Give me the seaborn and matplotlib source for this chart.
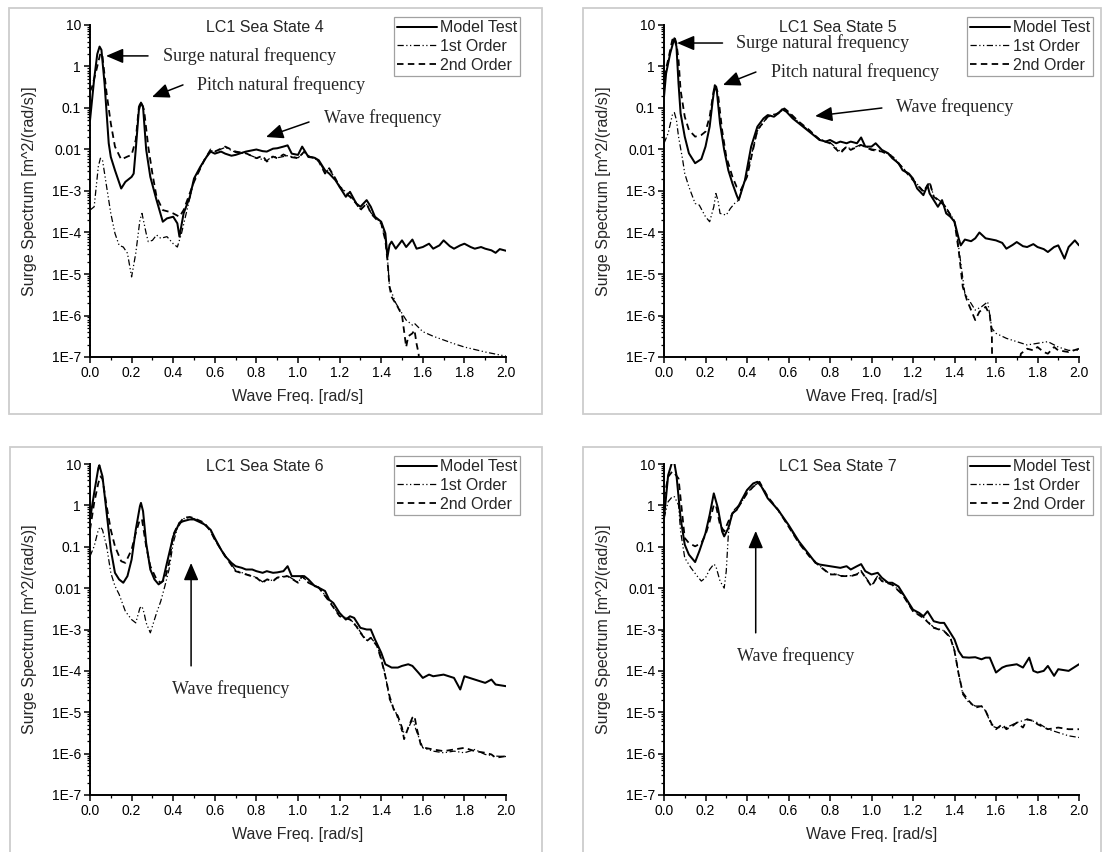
import numpy as np
import pandas as pd
import matplotlib
matplotlib.use("Agg")
import matplotlib.pyplot as plt
import seaborn as sns
from matplotlib.patches import Rectangle
from matplotlib.ticker import LogLocator, MultipleLocator, NullFormatter

sns.set_theme(style="ticks")
plt.rcParams["font.family"] = ["Liberation Sans", "DejaVu Sans"]

# ---------------------------------------------------------------------------
# Surge spectra, stored as (frequency [rad/s], log10 of spectral density)
# ---------------------------------------------------------------------------
SERIES = ["Model Test", "1st Order", "2nd Order"]

ss4_model = [(0.0,-1.3),(0.02,-0.3),(0.035,0.3),(0.046,0.48),(0.055,0.4),(0.07,-0.41),(0.09,-1.85),(0.1,-2.18),
    (0.12,-2.5),(0.15,-2.94),(0.17,-2.78),(0.2,-2.66),(0.21,-2.58),(0.22,-2.0),(0.235,-1.05),(0.245,-0.87),
    (0.255,-0.97),(0.27,-2.0),(0.29,-2.66),(0.32,-3.22),(0.35,-3.74),(0.37,-3.66),(0.4,-3.62),(0.42,-3.78),
    (0.43,-4.1),(0.45,-3.54),(0.48,-3.14),(0.5,-2.7),(0.53,-2.42),(0.56,-2.18),(0.58,-2.05),(0.6,-2.1),
    (0.63,-2.05),(0.65,-2.1),(0.68,-2.15),(0.7,-2.13),(0.73,-2.08),(0.75,-2.05),(0.78,-2.02),(0.8,-2.0),
    (0.83,-2.04),(0.85,-2.05),(0.88,-1.98),(0.9,-1.97),(0.93,-1.93),(0.95,-1.9),(0.97,-2.1),(1.0,-2.13),
    (1.02,-1.93),(1.05,-2.18),(1.08,-2.2),(1.1,-2.26),(1.13,-2.5),(1.15,-2.58),(1.18,-2.74),(1.2,-2.9),
    (1.23,-3.14),(1.25,-3.02),(1.28,-3.3),(1.3,-3.38),(1.33,-3.22),(1.35,-3.38),(1.37,-3.62),(1.4,-3.74),
    (1.42,-4.02),(1.43,-4.59),(1.44,-4.3),(1.45,-4.22),(1.47,-4.39),(1.5,-4.19),(1.52,-4.35),(1.55,-4.17),
    (1.57,-4.39),(1.6,-4.35),(1.63,-4.27),(1.65,-4.39),(1.68,-4.31),(1.7,-4.19),(1.73,-4.33),(1.75,-4.39),
    (1.78,-4.31),(1.8,-4.27),(1.83,-4.35),(1.85,-4.39),(1.88,-4.35),(1.9,-4.39),(1.93,-4.43),(1.95,-4.49),
    (1.97,-4.4),(2.0,-4.44)]
ss4_first = [(0.0,-3.46),(0.02,-3.38),(0.04,-2.41),(0.05,-2.21),(0.06,-2.25),(0.08,-2.9),(0.1,-3.54),(0.12,-4.02),
    (0.14,-4.31),(0.16,-4.35),(0.18,-4.5),(0.2,-5.07),(0.22,-4.5),(0.24,-3.7),(0.25,-3.54),(0.27,-4.02),
    (0.28,-4.22),(0.3,-4.19),(0.32,-4.06),(0.34,-4.14),(0.37,-4.1),(0.4,-4.27),(0.42,-4.35),(0.44,-4.02),
    (0.47,-3.38),(0.5,-2.74),(0.55,-2.25),(0.58,-2.02),(0.6,-2.05),(0.65,-1.95),(0.7,-2.07),(0.75,-2.1),
    (0.8,-2.2),(0.85,-2.27),(0.88,-2.15),(0.9,-2.2),(0.95,-2.15),(1.0,-2.2),(1.03,-2.07),(1.05,-2.15),
    (1.1,-2.27),(1.13,-2.55),(1.15,-2.47),(1.2,-2.88),(1.25,-3.12),(1.28,-3.28),(1.3,-3.44),(1.33,-3.32),
    (1.35,-3.52),(1.38,-3.68),(1.4,-3.76),(1.42,-4.17),(1.43,-4.6),(1.44,-5.31),(1.47,-5.7),(1.5,-5.95),
    (1.52,-6.11),(1.55,-6.23),(1.56,-6.19),(1.6,-6.39),(1.65,-6.5),(1.7,-6.59),(1.75,-6.68),(1.8,-6.76),
    (1.85,-6.82),(1.9,-6.88),(1.95,-6.93),(2.0,-6.98)]
ss4_second = [(0.0,-0.6),(0.01,-0.49),(0.03,-0.1),(0.05,0.32),(0.06,0.24),(0.08,-0.65),(0.1,-1.37),(0.12,-1.93),
    (0.15,-2.24),(0.18,-2.17),(0.2,-2.13),(0.22,-1.77),(0.235,-0.97),(0.245,-0.85),(0.26,-1.05),(0.28,-1.93),
    (0.3,-2.58),(0.32,-3.14),(0.35,-3.46),(0.38,-3.5),(0.4,-3.54),(0.43,-3.62),(0.45,-3.46),(0.5,-2.78),
    (0.55,-2.25),(0.58,-2.0),(0.6,-2.05),(0.65,-1.93),(0.7,-2.05),(0.75,-2.09),(0.8,-2.21),(0.83,-2.15),
    (0.85,-2.29),(0.88,-2.17),(0.9,-2.21),(0.93,-2.12),(0.95,-2.17),(1.0,-2.21),(1.03,-2.05),(1.05,-2.17),
    (1.08,-2.2),(1.1,-2.29),(1.13,-2.58),(1.15,-2.45),(1.18,-2.7),(1.2,-2.9),(1.23,-3.06),(1.25,-3.14),
    (1.28,-3.3),(1.3,-3.46),(1.33,-3.3),(1.35,-3.54),(1.38,-3.7),(1.4,-3.78),(1.42,-4.19),(1.43,-4.67),
    (1.44,-5.31),(1.45,-5.55),(1.48,-5.8),(1.5,-5.99),(1.52,-6.76),(1.53,-6.5),(1.55,-6.43),(1.56,-6.35),
    (1.57,-6.68),(1.58,-6.92),(1.585,-7.4)]

ss5_model = [(0.0,-0.73),(0.01,-0.17),(0.03,0.32),(0.05,0.68),(0.06,0.48),(0.07,-0.41),(0.08,-1.13),(0.1,-1.69),
    (0.12,-2.09),(0.15,-2.33),(0.18,-2.23),(0.2,-1.93),(0.22,-1.45),(0.235,-0.81),(0.245,-0.45),(0.255,-0.61),
    (0.27,-1.37),(0.29,-2.01),(0.31,-2.5),(0.33,-2.82),(0.35,-3.1),(0.36,-3.22),(0.37,-3.06),(0.39,-2.74),
    (0.42,-1.93),(0.45,-1.45),(0.48,-1.25),(0.5,-1.17),(0.53,-1.21),(0.55,-1.13),(0.57,-1.03),(0.59,-1.09),
    (0.62,-1.25),(0.65,-1.37),(0.68,-1.49),(0.7,-1.57),(0.73,-1.69),(0.75,-1.77),(0.78,-1.81),(0.8,-1.77),
    (0.83,-1.85),(0.85,-1.81),(0.88,-1.85),(0.9,-1.81),(0.93,-1.85),(0.95,-1.71),(0.97,-1.93),(1.0,-1.93),
    (1.02,-1.85),(1.05,-2.01),(1.08,-2.09),(1.1,-2.21),(1.13,-2.33),(1.15,-2.5),(1.18,-2.58),(1.2,-2.7),
    (1.22,-2.94),(1.25,-3.1),(1.27,-2.86),(1.28,-3.06),(1.3,-3.22),(1.32,-3.38),(1.34,-3.22),(1.36,-3.54),
    (1.38,-3.62),(1.4,-3.74),(1.42,-4.14),(1.43,-4.31),(1.45,-4.17),(1.48,-4.21),(1.5,-4.14),(1.52,-4.0),
    (1.55,-4.14),(1.58,-4.17),(1.6,-4.19),(1.63,-4.25),(1.65,-4.39),(1.68,-4.3),(1.7,-4.23),(1.73,-4.33),
    (1.75,-4.35),(1.78,-4.28),(1.8,-4.35),(1.83,-4.4),(1.85,-4.47),(1.88,-4.35),(1.9,-4.31),(1.93,-4.63),
    (1.95,-4.35),(1.98,-4.19),(2.0,-4.31)]
ss5_first = [(0.0,-1.85),(0.02,-1.61),(0.04,-1.17),(0.05,-1.11),(0.06,-1.29),(0.07,-1.69),(0.09,-2.25),(0.1,-2.58),
    (0.12,-2.9),(0.15,-3.3),(0.17,-3.34),(0.2,-3.62),(0.22,-3.74),(0.24,-3.38),(0.25,-3.06),(0.26,-3.22),
    (0.27,-3.54),(0.3,-3.58),(0.32,-3.42),(0.34,-3.3),(0.36,-3.22),(0.38,-2.9),(0.4,-2.58),(0.45,-1.55),
    (0.5,-1.2),(0.55,-1.12),(0.58,-1.03),(0.6,-1.1),(0.65,-1.35),(0.7,-1.55),(0.75,-1.75),(0.8,-1.83),
    (0.85,-2.05),(0.88,-1.93),(0.9,-1.99),(0.95,-1.88),(1.0,-1.99),(1.05,-2.03),(1.1,-2.15),(1.15,-2.43),
    (1.2,-2.72),(1.25,-3.0),(1.28,-2.8),(1.3,-3.12),(1.35,-3.32),(1.4,-3.72),(1.42,-4.35),(1.45,-5.47),
    (1.5,-5.87),(1.53,-5.79),(1.56,-5.67),(1.58,-6.31),(1.6,-6.43),(1.65,-6.55),(1.7,-6.63),(1.75,-6.71),
    (1.8,-6.67),(1.85,-6.63),(1.9,-6.76),(1.95,-6.84),(2.0,-6.84)]
ss5_second = [(0.0,-0.25),(0.02,0.16),(0.04,0.64),(0.05,0.72),(0.06,0.56),(0.07,0.16),(0.08,-0.57),(0.1,-1.21),
    (0.12,-1.53),(0.15,-1.69),(0.18,-1.65),(0.2,-1.57),(0.22,-1.21),(0.24,-0.57),(0.25,-0.45),(0.26,-0.65),
    (0.28,-1.53),(0.3,-2.17),(0.33,-2.66),(0.35,-2.9),(0.37,-2.98),(0.4,-2.66),(0.45,-1.53),(0.5,-1.21),
    (0.55,-1.13),(0.58,-1.01),(0.6,-1.09),(0.65,-1.33),(0.7,-1.53),(0.75,-1.77),(0.8,-1.85),(0.85,-2.09),
    (0.88,-1.93),(0.9,-2.01),(0.95,-1.89),(1.0,-2.01),(1.05,-2.05),(1.1,-2.17),(1.15,-2.45),(1.2,-2.74),
    (1.25,-3.02),(1.28,-2.78),(1.3,-3.14),(1.35,-3.34),(1.4,-3.74),(1.42,-4.43),(1.44,-5.31),(1.46,-5.63),
    (1.5,-6.11),(1.52,-5.91),(1.54,-5.83),(1.55,-5.79),(1.57,-5.99),(1.58,-6.43),(1.582,-7.5),(1.7,-7.5),
    (1.72,-6.92),(1.75,-6.8),(1.78,-6.84),(1.8,-6.76),(1.83,-6.88),(1.85,-6.92),(1.88,-6.76),(1.9,-6.84),
    (1.95,-6.88),(2.0,-6.8)]

ss6_model = [(0.0,-0.34),(0.02,0.3),(0.04,0.9),(0.045,0.97),(0.06,0.7),(0.08,-0.18),(0.1,-1.07),(0.12,-1.63),
    (0.14,-1.79),(0.16,-1.87),(0.18,-1.71),(0.2,-1.31),(0.22,-0.59),(0.24,-0.02),(0.245,0.06),(0.255,-0.14),
    (0.27,-0.91),(0.29,-1.55),(0.31,-1.79),(0.33,-1.91),(0.35,-1.83),(0.37,-1.39),(0.4,-0.75),(0.43,-0.42),
    (0.45,-0.38),(0.48,-0.34),(0.5,-0.34),(0.53,-0.41),(0.55,-0.46),(0.58,-0.59),(0.6,-0.79),(0.63,-1.07),
    (0.65,-1.23),(0.68,-1.39),(0.7,-1.47),(0.73,-1.51),(0.75,-1.55),(0.78,-1.55),(0.8,-1.59),(0.83,-1.63),
    (0.85,-1.59),(0.88,-1.63),(0.9,-1.62),(0.93,-1.59),(0.95,-1.47),(0.97,-1.71),(1.0,-1.71),(1.03,-1.71),
    (1.05,-1.79),(1.08,-1.95),(1.1,-1.99),(1.13,-2.07),(1.15,-2.28),(1.17,-2.36),(1.2,-2.6),(1.23,-2.76),
    (1.25,-2.68),(1.27,-2.72),(1.3,-2.96),(1.33,-3.0),(1.35,-3.0),(1.37,-3.24),(1.4,-3.56),(1.42,-3.84),
    (1.45,-3.92),(1.48,-3.92),(1.5,-3.88),(1.53,-3.84),(1.55,-3.88),(1.58,-4.05),(1.6,-4.17),(1.63,-4.09),
    (1.65,-4.13),(1.7,-4.09),(1.75,-4.17),(1.78,-4.45),(1.8,-4.13),(1.85,-4.21),(1.9,-4.29),(1.93,-4.21),
    (1.95,-4.33),(2.0,-4.37)]
ss6_first = [(0.0,-1.23),(0.02,-0.99),(0.04,-0.59),(0.05,-0.52),(0.06,-0.59),(0.08,-0.99),(0.1,-1.63),(0.12,-1.95),
    (0.14,-2.15),(0.17,-2.56),(0.2,-2.76),(0.22,-2.84),(0.24,-2.48),(0.25,-2.44),(0.26,-2.6),(0.27,-2.84),
    (0.29,-3.08),(0.3,-2.92),(0.32,-2.6),(0.34,-2.32),(0.36,-1.95),(0.38,-1.55),(0.4,-0.91),(0.42,-0.55),
    (0.45,-0.32),(0.48,-0.3),(0.5,-0.32),(0.55,-0.44),(0.58,-0.62),(0.6,-0.82),(0.65,-1.21),(0.7,-1.57),
    (0.75,-1.66),(0.8,-1.74),(0.83,-1.85),(0.85,-1.78),(0.88,-1.82),(0.9,-1.74),(0.95,-1.7),(1.0,-1.86),
    (1.02,-1.72),(1.05,-1.86),(1.1,-1.98),(1.15,-2.3),(1.2,-2.66),(1.25,-2.75),(1.28,-2.9),(1.3,-3.06),
    (1.33,-3.26),(1.35,-3.2),(1.38,-3.38),(1.4,-3.7),(1.42,-4.1),(1.44,-4.69),(1.47,-5.0),(1.5,-5.46),
    (1.52,-5.5),(1.55,-5.17),(1.57,-5.46),(1.6,-5.86),(1.65,-5.94),(1.7,-5.98),(1.75,-5.94),(1.8,-5.98),
    (1.85,-5.9),(1.9,-6.02),(1.95,-6.06),(2.0,-6.07)]
ss6_second = [(0.0,-0.59),(0.02,0.06),(0.04,0.54),(0.05,0.7),(0.06,0.64),(0.08,-0.02),(0.1,-0.59),(0.12,-0.99),
    (0.15,-1.35),(0.17,-1.39),(0.2,-1.07),(0.22,-0.67),(0.24,-0.34),(0.25,-0.34),(0.27,-0.99),(0.29,-1.47),
    (0.32,-1.79),(0.34,-1.87),(0.36,-1.79),(0.38,-1.39),(0.4,-0.71),(0.42,-0.5),(0.45,-0.3),(0.48,-0.28),
    (0.5,-0.31),(0.55,-0.42),(0.58,-0.63),(0.6,-0.83),(0.65,-1.23),(0.7,-1.59),(0.75,-1.67),(0.8,-1.75),
    (0.83,-1.87),(0.85,-1.79),(0.88,-1.83),(0.9,-1.75),(0.95,-1.71),(1.0,-1.87),(1.02,-1.71),(1.05,-1.87),
    (1.1,-1.99),(1.15,-2.32),(1.2,-2.68),(1.25,-2.76),(1.28,-2.92),(1.3,-3.08),(1.33,-3.28),(1.35,-3.2),
    (1.38,-3.4),(1.4,-3.72),(1.42,-4.13),(1.44,-4.61),(1.46,-4.93),(1.48,-5.09),(1.5,-5.37),(1.51,-5.65),
    (1.53,-5.37),(1.55,-5.13),(1.56,-5.09),(1.57,-5.37),(1.59,-5.78),(1.61,-5.86),(1.65,-5.9),(1.7,-5.94),
    (1.75,-5.9),(1.8,-5.86),(1.85,-5.94),(1.9,-5.98),(1.93,-6.02),(1.95,-6.1),(2.0,-6.06)]

ss7_model = [(0.0,-0.31),(0.02,0.73),(0.04,1.06),(0.05,1.02),(0.06,0.73),(0.08,-0.31),(0.1,-0.95),(0.12,-1.19),
    (0.14,-1.31),(0.15,-1.37),(0.17,-1.11),(0.2,-0.67),(0.22,-0.23),(0.24,0.29),(0.26,-0.07),(0.28,-0.63),
    (0.29,-0.75),(0.31,-0.55),(0.33,-0.19),(0.35,-0.11),(0.37,0.09),(0.4,0.37),(0.43,0.53),(0.45,0.57),
    (0.47,0.45),(0.5,0.17),(0.55,-0.11),(0.6,-0.47),(0.65,-0.87),(0.7,-1.19),(0.73,-1.39),(0.75,-1.43),
    (0.8,-1.47),(0.85,-1.51),(0.88,-1.47),(0.9,-1.55),(0.93,-1.47),(0.95,-1.42),(0.97,-1.59),(1.0,-1.67),
    (1.03,-1.63),(1.05,-1.75),(1.08,-1.87),(1.1,-1.87),(1.13,-1.96),(1.15,-2.12),(1.17,-2.28),(1.2,-2.52),
    (1.23,-2.6),(1.25,-2.68),(1.27,-2.56),(1.3,-2.8),(1.33,-2.84),(1.35,-2.84),(1.37,-3.0),(1.4,-3.24),
    (1.42,-3.52),(1.44,-3.67),(1.47,-3.68),(1.5,-3.67),(1.53,-3.72),(1.55,-3.68),(1.57,-3.68),(1.6,-4.04),
    (1.63,-3.92),(1.65,-3.88),(1.7,-3.84),(1.73,-3.92),(1.76,-3.68),(1.78,-4.0),(1.8,-4.04),(1.83,-4.0),
    (1.85,-3.88),(1.88,-4.12),(1.9,-3.96),(1.95,-4.0),(2.0,-3.84)]
ss7_first = [(0.0,-0.31),(0.02,0.09),(0.04,0.21),(0.05,0.21),(0.07,0.01),(0.08,-0.63),(0.1,-1.27),(0.13,-1.51),
    (0.16,-1.71),(0.18,-1.83),(0.2,-1.75),(0.22,-1.55),(0.24,-1.42),(0.25,-1.47),(0.27,-1.83),(0.29,-2.0),
    (0.3,-1.59),(0.31,-0.71),(0.32,-0.31),(0.34,-0.1),(0.37,0.05),(0.4,0.3),(0.43,0.46),(0.46,0.56),
    (0.5,0.2),(0.55,-0.12),(0.6,-0.5),(0.65,-0.9),(0.7,-1.22),(0.75,-1.46),(0.8,-1.66),(0.83,-1.66),
    (0.85,-1.7),(0.9,-1.7),(0.93,-1.66),(0.95,-1.58),(1.0,-1.94),(1.03,-1.7),(1.05,-1.82),(1.1,-1.9),
    (1.15,-2.15),(1.2,-2.55),(1.25,-2.7),(1.3,-2.95),(1.35,-3.03),(1.38,-3.19),(1.4,-3.5),(1.42,-4.06),
    (1.44,-4.57),(1.47,-4.77),(1.5,-4.85),(1.53,-4.85),(1.55,-4.97),(1.58,-5.33),(1.6,-5.37),(1.65,-5.37),
    (1.7,-5.25),(1.75,-5.17),(1.8,-5.25),(1.85,-5.41),(1.9,-5.49),(1.95,-5.57),(2.0,-5.61)]
ss7_second = [(0.0,0.17),(0.02,0.69),(0.04,0.82),(0.05,0.78),(0.07,0.65),(0.09,-0.31),(0.1,-0.79),(0.12,-0.91),
    (0.15,-0.99),(0.18,-0.91),(0.2,-0.71),(0.22,-0.39),(0.24,0.01),(0.25,0.01),(0.27,-0.47),(0.29,-0.63),
    (0.31,-0.39),(0.33,-0.19),(0.36,-0.03),(0.4,0.29),(0.43,0.45),(0.46,0.57),(0.5,0.21),(0.55,-0.11),
    (0.6,-0.51),(0.65,-0.91),(0.7,-1.23),(0.75,-1.47),(0.8,-1.67),(0.83,-1.67),(0.85,-1.71),(0.9,-1.71),
    (0.93,-1.67),(0.95,-1.59),(1.0,-1.96),(1.03,-1.71),(1.05,-1.83),(1.1,-1.92),(1.15,-2.16),(1.2,-2.56),
    (1.25,-2.72),(1.3,-2.96),(1.35,-3.04),(1.38,-3.2),(1.4,-3.52),(1.42,-4.08),(1.44,-4.53),(1.47,-4.73),
    (1.5,-4.89),(1.53,-4.85),(1.55,-4.97),(1.58,-5.29),(1.6,-5.41),(1.63,-5.29),(1.65,-5.41),(1.68,-5.33),
    (1.7,-5.25),(1.73,-5.37),(1.75,-5.17),(1.78,-5.21),(1.8,-5.29),(1.85,-5.41),(1.9,-5.37),(1.95,-5.41),
    (2.0,-5.41)]

PANEL_TITLES = ["LC1 Sea State 4", "LC1 Sea State 5", "LC1 Sea State 6", "LC1 Sea State 7"]
PANEL_DATA = [
    {"Model Test": ss4_model, "1st Order": ss4_first, "2nd Order": ss4_second},
    {"Model Test": ss5_model, "1st Order": ss5_first, "2nd Order": ss5_second},
    {"Model Test": ss6_model, "1st Order": ss6_first, "2nd Order": ss6_second},
    {"Model Test": ss7_model, "1st Order": ss7_first, "2nd Order": ss7_second},
]

X_TICKS = [0.0, 0.2, 0.4, 0.6, 0.8, 1.0, 1.2, 1.4, 1.6, 1.8, 2.0]
X_TICK_LABELS = ["0.0", "0.2", "0.4", "0.6", "0.8", "1.0", "1.2", "1.4", "1.6", "1.8", "2.0"]
Y_TICKS = [1e-7, 1e-6, 1e-5, 1e-4, 1e-3, 1e-2, 1e-1, 1, 10]
Y_TICK_LABELS = ["1E-7", "1E-6", "1E-5", "1E-4", "1E-3", "0.01", "0.1", "1", "10"]

# Annotations: (text, text anchor, arrow tail, arrow tip) in data coordinates
ANNOTATIONS = [
    [("Surge natural frequency", (0.35, 1.8), (0.279, 1.8), (0.077, 1.8)),
     ("Pitch natural frequency", (0.515, 0.36), (0.447, 0.36), (0.298, 0.184)),
     ("Wave frequency", (1.127, 0.057), (1.053, 0.046), (0.846, 0.02))],
    [("Surge natural frequency", (0.347, 3.68), (0.282, 3.68), (0.063, 3.68)),
     ("Pitch natural frequency", (0.514, 0.736), (0.443, 0.736), (0.284, 0.358)),
     ("Wave frequency", (1.118, 0.107), (1.05, 0.1), (0.728, 0.064))],
    [("Wave frequency", (0.394, 3.7e-5), (0.486, 1.32e-4), (0.486, 0.0406))],
    [("Wave frequency", (0.352, 2.3e-4), (0.442, 8.3e-4), (0.442, 0.241))],
]

STYLE_DASHES = {"Model Test": "", "1st Order": (5, 2, 1, 2, 1, 2), "2nd Order": (3.6, 2.4)}
STYLE_WIDTHS = {"Model Test": 1.45, "1st Order": 0.9, "2nd Order": 1.3}
STYLE_COLORS = {name: "black" for name in SERIES}

# ---------------------------------------------------------------------------
W, H = 1107, 852
fig = plt.figure(figsize=(W / 100, H / 100), dpi=100)
fig.patch.set_facecolor("white")

# axes rectangles in pixels: left, right, top, bottom
axes_px = [(90, 506, 25, 357), (664, 1079, 25, 357), (90, 506, 464, 795), (664, 1079, 464, 795)]
# surrounding light frames in pixels: left, right, top, bottom
frames_px = [(9, 542, 8, 414), (583, 1101, 8, 414), (10, 542, 447, 870), (583, 1101, 447, 870)]

for (fl, fr, ft, fb) in frames_px:
    fig.add_artist(Rectangle((fl / W, 1 - fb / H), (fr - fl) / W, (fb - ft) / H,
                             transform=fig.transFigure, fill=False,
                             edgecolor="#cdcdcd", linewidth=1.3, zorder=0))


def long_frame(series):
    rows = []
    for name in SERIES:
        for f, lg in series[name]:
            rows.append((name, f, 10.0 ** lg))
    return pd.DataFrame(rows, columns=["series", "freq", "spectrum"])


for i, (l, r, t, b) in enumerate(axes_px):
    ax = fig.add_axes([l / W, 1 - b / H, (r - l) / W, (b - t) / H])
    ax.set_facecolor("none")
    df = long_frame(PANEL_DATA[i])
    sns.lineplot(data=df, x="freq", y="spectrum", hue="series", style="series", size="series",
                 hue_order=SERIES, style_order=SERIES, size_order=SERIES,
                 palette=STYLE_COLORS, dashes=STYLE_DASHES, sizes=STYLE_WIDTHS,
                 sort=False, estimator=None, legend=False, ax=ax)
    ax.set_yscale("log")
    ax.set_xlim(0, 2.0)
    ax.set_ylim(1e-7, 10)

    ax.set_xticks(X_TICKS, labels=X_TICK_LABELS)
    ax.set_yticks(Y_TICKS, labels=Y_TICK_LABELS)
    ax.xaxis.set_minor_locator(MultipleLocator(0.1))
    ax.yaxis.set_minor_locator(LogLocator(base=10, subs=np.arange(2, 10) * 1.0, numticks=100))
    ax.yaxis.set_minor_formatter(NullFormatter())
    ax.tick_params(which="major", direction="out", length=4, width=1.1, colors="black",
                   labelsize=10, pad=2.5)
    ax.tick_params(which="minor", direction="out", length=2.3, width=0.9, colors="black")

    for side in ("top", "right"):
        ax.spines[side].set_visible(False)
    for side in ("left", "bottom"):
        ax.spines[side].set_linewidth(1.4)
        ax.spines[side].set_color("black")

    ax.set_xlabel("Wave Freq. [rad/s]", fontsize=11.5)
    ax.set_ylabel("Surge Spectrum [m^2/(rad/s)]", fontsize=11.5)
    ax.xaxis.set_label_coords(0.5, -0.097)
    ax.yaxis.set_label_coords(-0.128, 0.5)

    ax.text(0.84, 8.9, PANEL_TITLES[i], ha="center", va="center", fontsize=11.5)

    lines = ax.get_lines()[:3]
    leg = ax.legend(lines, SERIES, loc="upper right", bbox_to_anchor=(1.034, 1.024),
                    borderaxespad=0, frameon=True, fancybox=False, fontsize=11.5,
                    handlelength=2.5, handletextpad=0.15, labelspacing=0.24, borderpad=0.2)
    leg.get_frame().set_edgecolor("#8a8a8a")
    leg.get_frame().set_linewidth(0.9)

    for text, tpos, tail, tip in ANNOTATIONS[i]:
        ax.annotate("", xy=tip, xytext=tail,
                    arrowprops=dict(arrowstyle="-|>,head_length=0.75,head_width=0.32",
                                    color="black", lw=1.1, shrinkA=0, shrinkB=0,
                                    mutation_scale=14))
        ax.text(tpos[0], tpos[1], text, ha="left", va="center", fontsize=13,
                family=["Liberation Serif", "DejaVu Serif"])

fig.savefig("out.png", dpi=100, facecolor="white")
